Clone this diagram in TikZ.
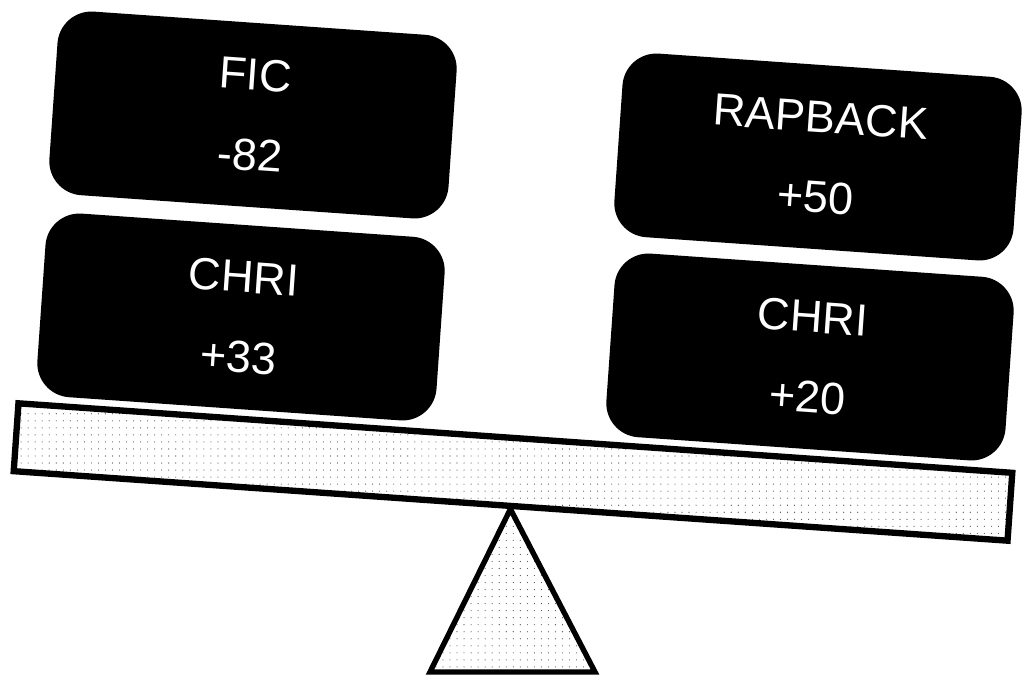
\documentclass[tikz,border=0pt]{standalone}
\usepackage{fontspec}
\setmainfont{Liberation Sans}
\usepackage{tikz}
\usetikzlibrary{positioning,calc,patterns.meta}

\begin{document}
\begin{tikzpicture}[x=0.025cm,y=-0.025cm,
  weightbox/.style={rectangle,rounded corners=0.85cm,fill=black,text=white,align=center,
    minimum width=10cm,minimum height=4.6cm,rotate=-4,inner sep=0pt,
    font=\fontsize{32}{57}\selectfont},
  stipple/.style={pattern={Dots[distance=5pt,radius=0.4pt]},pattern color=black!75},
  every node/.style={font=\small}]
  \useasboundingbox (0,0) rectangle (1022,681);
  % weights on the two ends
  \node[weightbox] (fic) at (253,115) {FIC\\-82};
  \node[weightbox] (chriL) at (241,317) {CHRI\\+33};
  \node[weightbox] (rap) at (818,157) {RAPBACK\\+50};
  \node[weightbox] (chriR) at (810,357) {CHRI\\+20};
  % plank and fulcrum
  \node[draw,line width=4.5pt,stipple,rotate=-4,minimum width=24.9cm,minimum height=1.7cm,inner sep=0pt] (plank) at (513,472) {};
  \coordinate (baseL) at (430,672);
  \coordinate (baseR) at (595,672);
  \draw[line width=3.8pt,line join=miter,stipple] (plank.south) -- (baseR) -- (baseL) -- cycle;
\end{tikzpicture}
\end{document}
